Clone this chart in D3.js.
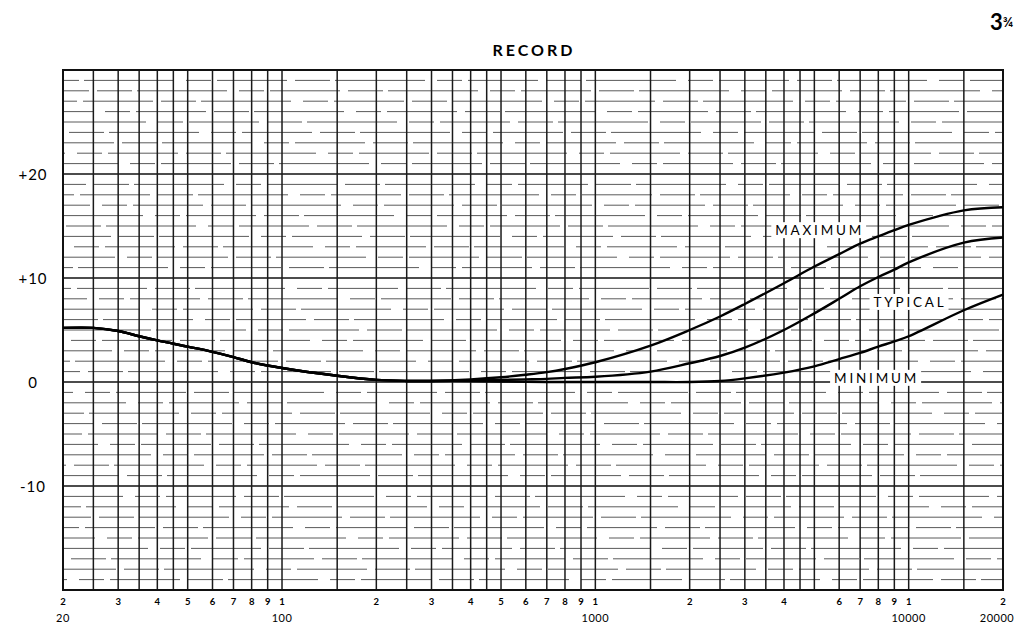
<!DOCTYPE html>
<html>
<head>
<meta charset="utf-8">
<script src="https://cdn.jsdelivr.net/npm/d3@7"></script>
<style>
  html, body { margin: 0; padding: 0; background: #fff; }
  svg { display: block; font-family: Lato, "DejaVu Sans", sans-serif; }
</style>
</head>
<body>
<svg id="chart" width="1017" height="630"></svg>
<script>
const frequencies = [20, 25, 30, 35, 40, 50, 60, 70, 80, 100, 150, 200, 250, 300, 400, 500, 600, 700, 800, 1000,
    1500, 2000, 2500, 3000, 4000, 5000, 6000, 7000, 8000, 9000, 10000, 15000, 20000];

// response in dB
const maximumValues = [5.2, 5.2, 4.9, 4.4, 4.0, 3.4, 2.9, 2.4, 1.9, 1.35, 0.6, 0.2, 0.1, 0.1, 0.25, 0.45, 0.7, 0.95, 1.25, 1.9,
    3.5, 5.0, 6.3, 7.5, 9.5, 11.1, 12.3, 13.3, 14.0, 14.6, 15.1, 16.5, 16.8];
const typicalValues = [5.2, 5.2, 4.9, 4.4, 4.0, 3.4, 2.9, 2.4, 1.9, 1.35, 0.6, 0.2, 0.1, 0.1, 0.15, 0.2, 0.25, 0.3, 0.4, 0.5,
    1.0, 1.8, 2.5, 3.3, 5.0, 6.6, 8.0, 9.2, 10.1, 10.8, 11.5, 13.4, 13.9];
const minimumValues = [5.2, 5.2, 4.9, 4.4, 4.0, 3.4, 2.9, 2.4, 1.9, 1.35, 0.6, 0.2, 0.1, 0.1, 0.1, 0.05, 0.02, 0, 0, 0,
    0, 0, 0.1, 0.35, 0.9, 1.5, 2.2, 2.8, 3.4, 3.9, 4.4, 6.9, 8.4];

const seriesNames = ["MAXIMUM", "TYPICAL", "MINIMUM"];

// grid lines inside each decade (multipliers)
const gridSteps = [1, 1.5, 2, 2.5, 3, 3.5, 4, 4.5, 5, 6, 7, 8, 9];
const decades = [10, 100, 1000, 10000];

// small digit labels under the grid
const digitTicks = [20, 30, 40, 50, 60, 70, 80, 90, 100, 200, 300, 400, 500, 600, 700, 800, 900, 1000,
    2000, 3000, 4000, 6000, 7000, 8000, 9000, 10000, 20000];
const freqLabels = ["20", "100", "1000", "10000", "20000"];

const yTicks = [20, 10, 0, -10];
const yTickLabels = ["+20", "+10", "0", "-10"];

const title = "RECORD";
const speedWhole = "3";
const speedFraction = "¾";

const margin = { top: 70, right: 14, bottom: 40, left: 63 };
const width = 1017;
const height = 630;

const svg = d3.select("#chart");

const scaleX = d3.scaleLog().domain([20, 20000]).range([margin.left, width - margin.right]);
const scaleY = d3.scaleLinear().domain([-20, 30]).range([height - margin.bottom, margin.top]);

const x0 = scaleX.range()[0];
const x1 = scaleX.range()[1];
const y0 = scaleY(30);
const y1 = scaleY(-20);

// horizontal grid, every dB
const grid = svg.append("g").attr("class", "grid");

grid.selectAll("line.h")
    .data(d3.range(-19, 30))
    .join("line")
    .attr("class", "h")
    .attr("x1", x0)
    .attr("x2", x1)
    .attr("y1", (d) => scaleY(d))
    .attr("y2", (d) => scaleY(d))
    .attr("stroke", (d) => (d % 10 === 0 ? "#111" : "#5a5a5a"))
    .attr("stroke-width", (d) => (d % 10 === 0 ? 1.6 : 1))
    .attr("stroke-dasharray", (d) => (d % 10 === 0 ? null : "70,8,35,5,90,12,25,6"))
    .attr("stroke-dashoffset", (d) => (d * 53) % 240);

// vertical grid
const verticals = decades
    .flatMap((dec) => gridSteps.map((s) => s * dec))
    .filter((f) => f > 20 && f < 20000);

grid.selectAll("line.v")
    .data(verticals)
    .join("line")
    .attr("class", "v")
    .attr("x1", (d) => scaleX(d))
    .attr("x2", (d) => scaleX(d))
    .attr("y1", y0)
    .attr("y2", y1)
    .attr("stroke", "#1a1a1a")
    .attr("stroke-width", 1.5);

// frame
svg.append("rect")
    .attr("x", x0)
    .attr("y", y0)
    .attr("width", x1 - x0)
    .attr("height", y1 - y0)
    .attr("fill", "none")
    .attr("stroke", "#111")
    .attr("stroke-width", 2);

// curves
const lineGenerator = d3
    .line()
    .x((d) => scaleX(d[0]))
    .y((d) => scaleY(d[1]))
    .curve(d3.curveCatmullRom.alpha(0.5));

const allSeries = [maximumValues, typicalValues, minimumValues];

svg.append("g")
    .attr("class", "curves")
    .selectAll("path")
    .data(allSeries)
    .join("path")
    .attr("fill", "none")
    .attr("stroke", "#000")
    .attr("stroke-width", 2.4)
    .attr("d", (values) => lineGenerator(frequencies.map((f, i) => [f, values[i]])));

// curve labels, on a white patch like the original
const curveLabels = [
    { name: seriesNames[0], freq: 5200, value: 14.6 },
    { name: seriesNames[1], freq: 10100, value: 7.7 },
    { name: seriesNames[2], freq: 7900, value: 0.4 }
];

const labelG = svg.append("g").attr("class", "curve-labels");

curveLabels.forEach((l) => {
    const text = labelG.append("text")
        .attr("x", scaleX(l.freq))
        .attr("y", scaleY(l.value))
        .attr("text-anchor", "middle")
        .attr("dominant-baseline", "central")
        .attr("font-size", 13.5)
        .attr("letter-spacing", 2.8)
        .attr("fill", "#000")
        .text(l.name);

    const box = text.node().getBBox();
    labelG.insert("rect", "text")
        .attr("x", box.x - 4)
        .attr("y", box.y)
        .attr("width", box.width + 6)
        .attr("height", box.height)
        .attr("fill", "#fff");
});

// y labels
svg.append("g")
    .selectAll("text")
    .data(yTicks)
    .join("text")
    .attr("x", 33)
    .attr("y", (d) => scaleY(d))
    .attr("text-anchor", "middle")
    .attr("dominant-baseline", "central")
    .attr("font-size", 15)
    .attr("letter-spacing", 1)
    .attr("fill", "#000")
    .text((d, i) => yTickLabels[i]);

// digit labels under the grid
svg.append("g")
    .selectAll("text")
    .data(digitTicks)
    .join("text")
    .attr("x", (d) => scaleX(d))
    .attr("y", 605)
    .attr("text-anchor", "middle")
    .attr("font-size", 9.5)
    .attr("font-weight", "bold")
    .attr("fill", "#000")
    .text((d) => String(d)[0]);

// frequency labels
svg.append("g")
    .selectAll("text")
    .data(freqLabels)
    .join("text")
    .attr("x", (d) => Math.min(scaleX(+d), 997))
    .attr("y", 622)
    .attr("text-anchor", "middle")
    .attr("font-size", 11)
    .attr("letter-spacing", 0.5)
    .attr("fill", "#000")
    .text((d) => d);

// title
svg.append("text")
    .attr("x", 534)
    .attr("y", 56)
    .attr("text-anchor", "middle")
    .attr("font-size", 16)
    .attr("font-weight", "bold")
    .attr("letter-spacing", 3)
    .attr("fill", "#000")
    .text(title);

// tape speed in the corner
const speed = svg.append("text")
    .attr("x", 990)
    .attr("y", 30)
    .attr("font-size", 22)
    .attr("font-weight", "bold")
    .attr("fill", "#000")
    .text(speedWhole);

speed.append("tspan")
    .attr("font-size", 14)
    .attr("dy", -3)
    .text(speedFraction);
</script>
</body>
</html>
